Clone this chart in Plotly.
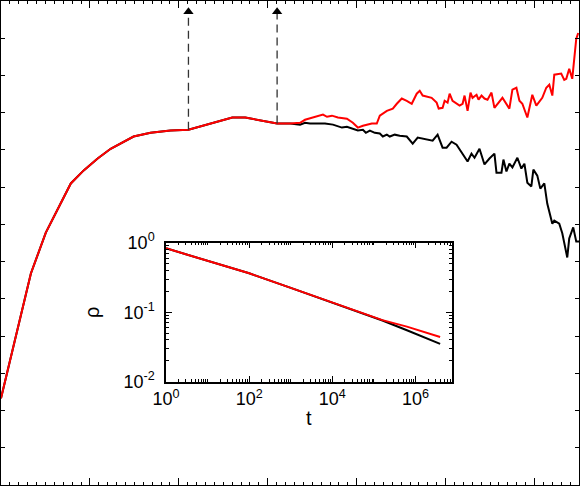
import plotly.graph_objects as go

# main panel (axis labels cropped off in the source, arbitrary units)
x_common = [0.0, 0.168, 0.336, 0.504, 0.673, 0.785, 0.930, 1.087, 1.233, 1.491,
            1.682, 1.906, 2.108, 2.276, 2.433, 2.601, 2.747, 2.881, 3.105, 3.251]
y_common = [2.33, 4.02, 5.68, 6.78, 7.56, 8.10, 8.45, 8.77, 9.03, 9.36,
            9.46, 9.52, 9.54, 9.65, 9.76, 9.87, 9.87, 9.81, 9.71, 9.71]

x_red = [3.363, 3.419, 3.509, 3.621, 3.666, 3.722, 3.789, 3.890, 3.957, 4.013,
         4.070, 4.170, 4.226, 4.260, 4.339, 4.406, 4.451, 4.507, 4.563, 4.619,
         4.675, 4.709, 4.742, 4.843, 4.899, 4.922, 4.966, 4.989, 5.022, 5.045,
         5.078, 5.157, 5.191, 5.213, 5.247, 5.280, 5.303, 5.348, 5.370, 5.404,
         5.437, 5.471, 5.516, 5.549, 5.639, 5.717, 5.751, 5.796, 5.830, 5.863,
         5.919, 5.975, 6.020, 6.087, 6.132, 6.166, 6.200, 6.222, 6.300, 6.334,
         6.357, 6.390, 6.424, 6.469, 6.491]
y_red = [9.73, 9.81, 9.87, 9.95, 9.89, 9.92, 9.87, 9.84, 9.73, 9.60,
         9.65, 9.71, 9.71, 9.92, 10.05, 10.11, 10.24, 10.38, 10.32, 10.24,
         10.51, 10.59, 10.46, 10.40, 10.27, 10.11, 10.13, 10.32, 10.27, 10.51,
         10.32, 10.19, 10.24, 10.46, 10.05, 10.54, 10.40, 10.48, 10.35, 10.46,
         10.38, 10.35, 10.54, 10.13, 10.40, 10.11, 10.62, 10.67, 10.32, 10.24,
         9.87, 10.48, 10.19, 10.40, 10.67, 10.75, 10.46, 11.02, 11.05, 10.88,
         10.91, 11.18, 10.91, 11.98, 12.14]

x_black = [3.363, 3.419, 3.475, 3.554, 3.643, 3.733, 3.834, 3.890, 3.957, 4.013,
           4.070, 4.103, 4.148, 4.204, 4.260, 4.294, 4.339, 4.372, 4.428, 4.484,
           4.563, 4.630, 4.686, 4.787, 4.854, 4.910, 4.966, 5.011, 5.067, 5.123,
           5.191, 5.247, 5.291, 5.325, 5.381, 5.437, 5.493, 5.549, 5.572, 5.628,
           5.650, 5.684, 5.717, 5.751, 5.807, 5.852, 5.886, 5.919, 5.964, 5.987,
           6.031, 6.065, 6.110, 6.143, 6.200, 6.222, 6.278, 6.312, 6.368, 6.390,
           6.435, 6.469, 6.502]
y_black = [9.68, 9.73, 9.71, 9.71, 9.71, 9.68, 9.60, 9.62, 9.57, 9.52,
           9.54, 9.46, 9.52, 9.46, 9.44, 9.36, 9.41, 9.36, 9.41, 9.38,
           9.36, 9.17, 9.33, 9.28, 9.25, 9.41, 9.06, 9.06, 9.22, 9.14,
           8.90, 8.69, 8.90, 8.79, 9.03, 8.61, 8.77, 8.90, 8.39, 8.39,
           8.74, 8.42, 8.63, 8.53, 8.79, 8.50, 8.63, 8.12, 8.02, 8.47,
           8.31, 7.96, 8.10, 7.56, 7.02, 7.10, 7.02, 6.76, 6.11, 6.62,
           6.92, 6.54, 6.54]

# dashed arrows marking the two crossover times
arrow_x = [2.108, 3.105]
arrow_base = [9.54, 9.71]
arrow_tip = 12.85

# inset: rho(t) on log-log axes
t_inset = [1, 10, 1e2, 1e3, 1e4, 1.5e4, 1.6e5, 6.2e5, 3.9e6]
rho_black = [0.83, 0.55, 0.363, 0.224, 0.138, 0.127, 0.076, 0.055, 0.035]
rho_red = [0.83, 0.55, 0.363, 0.224, 0.138, 0.127, 0.077, 0.062, 0.044]

inset_xticks = [1, 1e2, 1e4, 1e6]
inset_xlabels = ["10<sup>0</sup>", "10<sup>2</sup>", "10<sup>4</sup>", "10<sup>6</sup>"]
inset_yticks = [0.01, 0.1, 1]
inset_ylabels = ["10<sup>-2</sup>", "10<sup>-1</sup>", "10<sup>0</sup>"]


def minor_vals(lo, hi, with_decades=False):
    vals = []
    d = lo
    while d < hi:
        start = 1 if (with_decades and d > lo) else 2
        for k in range(start, 10):
            vals.append(k * d)
        d *= 10
    return vals


fig = go.Figure()

fig.add_trace(go.Scatter(x=x_common + x_black, y=y_common + y_black, mode="lines",
                         line=dict(color="black", width=2), showlegend=False))
fig.add_trace(go.Scatter(x=x_common + x_red, y=y_common + y_red, mode="lines",
                         line=dict(color="red", width=2), showlegend=False))

for xa, yb in zip(arrow_x, arrow_base):
    fig.add_trace(go.Scatter(x=[xa, xa], y=[yb, arrow_tip - 0.15], mode="lines",
                             line=dict(color="#333", width=1.3, dash="8px,5px"),
                             showlegend=False))
fig.add_trace(go.Scatter(x=arrow_x, y=[arrow_tip - 0.14] * 2, mode="markers",
                         marker=dict(symbol="triangle-up", size=9, color="black"),
                         showlegend=False))

fig.add_trace(go.Scatter(x=t_inset, y=rho_black, mode="lines", xaxis="x2", yaxis="y2",
                         line=dict(color="black", width=2), showlegend=False))
fig.add_trace(go.Scatter(x=t_inset, y=rho_red, mode="lines", xaxis="x2", yaxis="y2",
                         line=dict(color="red", width=2), showlegend=False))

frame = dict(showline=True, linecolor="black", linewidth=1.2, mirror="ticks",
             showgrid=False, zeroline=False, showticklabels=False, automargin=False,
             ticks="inside", tickcolor="black")

fig.update_layout(
    width=580, height=486,
    margin=dict(l=1, r=1, t=1, b=1, autoexpand=False),
    paper_bgcolor="white", plot_bgcolor="white",
    font=dict(family="Liberation Sans, Arial, sans-serif", color="black"),
    xaxis=dict(frame, range=[0, 6.5], dtick=1, ticklen=7, tickwidth=1,
               minor=dict(ticks="inside", dtick=0.1, ticklen=3, tickcolor="black")),
    yaxis=dict(frame, range=[0, 13], dtick=1, ticklen=4, tickwidth=1),
    xaxis2=dict(type="log", domain=[0.2855, 0.7798], anchor="y2", range=[0, 6.87],
                showline=True, linecolor="black", linewidth=1.5, mirror="allticks",
                showgrid=False, zeroline=False, ticks="inside", ticklen=6,
                tickcolor="black", tickmode="array", tickvals=inset_xticks,
                ticktext=inset_xlabels, tickfont=dict(size=18), automargin=False,
                minor=dict(ticks="inside", ticklen=3, tickcolor="black",
                           tickmode="array", tickvals=minor_vals(1, 1e7, True)),
                title=dict(text="t", font=dict(size=20), standoff=3)),
    yaxis2=dict(type="log", domain=[0.2134, 0.5006], anchor="x2", range=[-2, 0],
                showline=True, linecolor="black", linewidth=1.5, mirror="allticks",
                showgrid=False, zeroline=False, ticks="inside", ticklen=6,
                tickcolor="black", tickmode="array", tickvals=inset_yticks,
                ticktext=inset_ylabels, tickfont=dict(size=18), automargin=False,
                ticklabelstandoff=6,
                minor=dict(ticks="inside", ticklen=3, tickcolor="black",
                           tickmode="array", tickvals=minor_vals(0.01, 1)),
                title=dict(text="ρ", font=dict(size=20), standoff=18)),
)

fig.write_html("out.html", config={"displayModeBar": False},
               post_script="document.body.style.margin='0';")
